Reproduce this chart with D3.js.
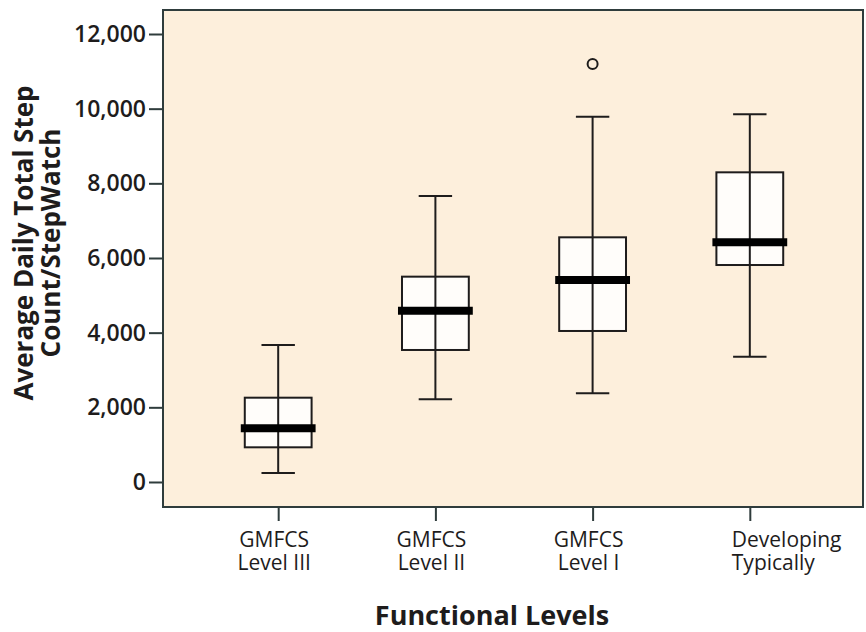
<!DOCTYPE html>
<html>
<head>
<meta charset="utf-8">
<script src="https://cdn.jsdelivr.net/npm/d3@7"></script>
<style>
  body { margin: 0; background: #ffffff; }
  svg { display: block; }
</style>
</head>
<body>
<svg id="chart" width="866" height="632"></svg>
<script>
// data
var categories = ["GMFCS Level III", "GMFCS Level II", "GMFCS Level I", "Developing Typically"];
var labelLines = [["GMFCS", "Level III"], ["GMFCS", "Level II"], ["GMFCS", "Level I"], ["Developing", "Typically"]];
var whiskerLow  = [240, 2215, 2380, 3357];
var q1          = [929, 3536, 4045, 5812];
var median      = [1438, 4590, 5411, 6420];
var q3          = [2258, 5500, 6554, 8295];
var whiskerHigh = [3670, 7660, 9785, 9849];
var outliers    = [[], [], [11196], []];
var yTicks = [0, 2000, 4000, 6000, 8000, 10000, 12000];

var plot_left = 163, plot_right = 863, plot_top = 10, plot_bottom = 507;
var bg_color = "#fdefdc", frame_color = "#2f3c3c", ink = "#1e1c1c";
var font = "'Open Sans', 'DejaVu Sans', sans-serif";

var svg = d3.select("#chart");

var y = d3.scaleLinear()
    .domain([-670, 12643])
    .range([plot_bottom, plot_top]);

var x = d3.scalePoint()
    .domain(categories)
    .range([plot_left + 2, plot_right])
    .padding(0.72);

var boxWidth = x.step() * 0.425;

// plot background
svg.append("rect")
    .attr("x", plot_left)
    .attr("y", plot_top)
    .attr("width", plot_right - plot_left)
    .attr("height", plot_bottom - plot_top)
    .attr("fill", bg_color);

// Boxes
var boxes = svg.append("g").selectAll("g.box")
    .data(categories)
    .enter().append("g")
    .attr("class", "box")
    .attr("transform", function(d){ return "translate(" + x(d) + ",0)"; });

boxes.append("rect")
    .attr("x", -boxWidth/2)
    .attr("y", function(d, i){ return y(q3[i]); })
    .attr("width", boxWidth)
    .attr("height", function(d, i){ return y(q1[i]) - y(q3[i]); })
    .attr("fill", "#fffdfa")
    .attr("stroke", ink)
    .attr("stroke-width", 2);

boxes.append("line")
    .attr("x1", 0).attr("x2", 0)
    .attr("y1", function(d, i){ return y(whiskerLow[i]); })
    .attr("y2", function(d, i){ return y(whiskerHigh[i]); })
    .attr("stroke", ink)
    .attr("stroke-width", 2);

boxes.append("line")
    .attr("x1", -boxWidth/4).attr("x2", boxWidth/4)
    .attr("y1", function(d, i){ return y(whiskerLow[i]); })
    .attr("y2", function(d, i){ return y(whiskerLow[i]); })
    .attr("stroke", ink)
    .attr("stroke-width", 2);

boxes.append("line")
    .attr("x1", -boxWidth/4).attr("x2", boxWidth/4)
    .attr("y1", function(d, i){ return y(whiskerHigh[i]); })
    .attr("y2", function(d, i){ return y(whiskerHigh[i]); })
    .attr("stroke", ink)
    .attr("stroke-width", 2);

boxes.append("line")
    .attr("x1", -boxWidth/2 - 4).attr("x2", boxWidth/2 + 4)
    .attr("y1", function(d, i){ return y(median[i]); })
    .attr("y2", function(d, i){ return y(median[i]); })
    .attr("stroke", "#000")
    .attr("stroke-width", 8);

boxes.each(function(d, i){
    d3.select(this).selectAll("circle")
        .data(outliers[i])
        .enter().append("circle")
        .attr("cx", 0)
        .attr("cy", function(v){ return y(v); })
        .attr("r", 5)
        .attr("fill", "none")
        .attr("stroke", ink)
        .attr("stroke-width", 2);
});

// frame
svg.append("rect")
    .attr("x", plot_left)
    .attr("y", plot_top)
    .attr("width", plot_right - plot_left)
    .attr("height", plot_bottom - plot_top)
    .attr("fill", "none")
    .attr("stroke", frame_color)
    .attr("stroke-width", 2);

// Axis
var yAxis = svg.append("g")
    .attr("transform", "translate(" + plot_left + ",0)")
    .call(d3.axisLeft(y).tickValues(yTicks).tickFormat(d3.format(",")).tickSize(14).tickPadding(3));
yAxis.select(".domain").remove();
yAxis.selectAll(".tick line").attr("stroke", frame_color).attr("stroke-width", 2);
yAxis.selectAll(".tick text")
    .attr("font-family", font)
    .attr("font-size", 23)
    .attr("font-weight", 600)
    .attr("fill", ink);

var xAxis = svg.append("g")
    .attr("transform", "translate(0," + plot_bottom + ")")
    .call(d3.axisBottom(x).tickSize(14).tickFormat(""));
xAxis.select(".domain").remove();
xAxis.selectAll(".tick line").attr("stroke", frame_color).attr("stroke-width", 2);
xAxis.selectAll(".tick text").remove();

// Text
var xLabels = svg.append("g").selectAll("text")
    .data(categories)
    .enter().append("text")
    .attr("font-family", font)
    .attr("font-size", 21)
    .attr("font-weight", 500)
    .attr("fill", ink)
    .attr("text-anchor", function(d, i){ return i == categories.length - 1 ? "start" : "middle"; })
    .attr("x", function(d, i){ return i == categories.length - 1 ? x(d) - 18 : x(d) - 4; })
    .attr("y", plot_bottom + 40);
xLabels.selectAll("tspan")
    .data(function(d, i){ return labelLines[i]; })
    .enter().append("tspan")
    .attr("x", function(){ return d3.select(this.parentNode).attr("x"); })
    .attr("dy", function(d, j){ return j == 0 ? 0 : 23; })
    .text(function(d){ return d; });

svg.append("text")
    .text("Functional Levels")
    .attr("x", 492)
    .attr("y", 625)
    .attr("text-anchor", "middle")
    .attr("font-family", font)
    .attr("font-size", 27)
    .attr("font-weight", "bold")
    .attr("fill", ink);

var yTitle = svg.append("text")
    .attr("transform", "translate(0,243) rotate(-90)")
    .attr("text-anchor", "middle")
    .attr("font-family", font)
    .attr("font-size", 26)
    .attr("font-weight", "bold")
    .attr("fill", ink);
yTitle.append("tspan").attr("x", 0).attr("y", 33).text("Average Daily Total Step");
yTitle.append("tspan").attr("x", 0).attr("y", 60).text("Count/StepWatch");
</script>
</body>
</html>
